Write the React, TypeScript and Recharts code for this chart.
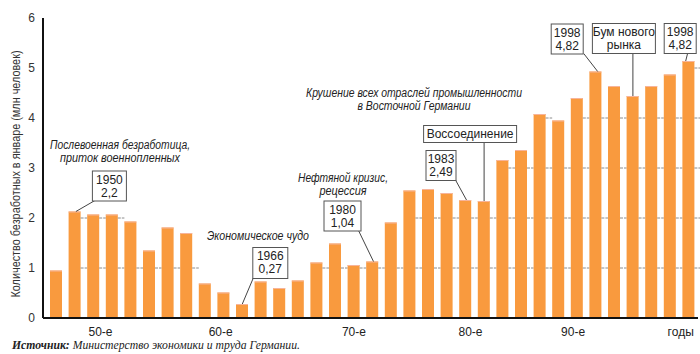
import React from 'react';
import { BarChart, Bar, XAxis, YAxis, ReferenceDot } from 'recharts';

// unemployed in January, mln people (one bar per reported year)
const values = [
  0.95, 2.13, 2.07, 2.07, 1.93, 1.35, 1.81, 1.70, 0.69, 0.51, 0.28, 0.73,
  0.60, 0.75, 1.11, 1.49, 1.06, 1.13, 1.91, 2.55, 2.58, 2.50, 2.36, 2.34,
  3.16, 3.36, 4.08, 3.95, 4.40, 4.93, 4.64, 4.44, 4.64, 4.87, 5.14,
];

const tickLabels = [
  '', '', '50-е', '', '', '', '', '', '', '60-е', '', '', '', '', '', '', '70-е', '',
  '', '', '', '', '80-е', '', '', '', '', '', '90-е', '', '', '', '', '', 'годы',
];

const yTicks = [0, 1, 2, 3, 4, 5, 6];

// boxed callouts: which bar they point at and what they say
const calloutBars = [1, 10, 17, 22, 23, 29, 31, 34];
const calloutTexts = [
  ['1950', '2,2'],
  ['1966', '0,27'],
  ['1980', '1,04'],
  ['1983', '2,49'],
  ['Воссоединение'],
  ['1998', '4,82'],
  ['Бум нового', 'рынка'],
  ['1998', '4,82'],
];

const data = values.map((v, i) => ({ key: String(i), value: v, label: tickLabels[i] }));

const SANS = "'Liberation Sans', Arial, sans-serif";
const BAR = '#F99A3E';

// box placement relative to the top of the bar it points at
const calloutLayout = [
  { dx: 17, dy: -41, w: 34, h: 30, lx: 20, ly: -11, ex: 1 },
  { dx: 10, dy: -57, w: 35, h: 31, lx: 11, ly: -26, ex: 0 },
  { dx: -49, dy: -61, w: 37, h: 30, lx: -14, ly: -31, ex: 1 },
  { dx: -40, dy: -50, w: 30, h: 30, lx: -10, ly: -20, ex: 1 },
  { dx: -61, dy: -76, w: 93, h: 17, lx: 0, ly: -59, ex: 0 },
  { dx: -45, dy: -48, w: 32, h: 30, lx: -12, ly: -18, ex: 2 },
  { dx: -41, dy: -73, w: 63, h: 30, lx: 0, ly: -43, ex: 0 },
  { dx: -25, dy: -38, w: 32, h: 30, lx: -1, ly: -8, ex: -3 },
];

const tickShift: Record<string, number> = { '50-е': 7, '60-е': -3, '80-е': 5, '90-е': -4, 'годы': -8 };

function BarShape(props: any) {
  const { x, y, width, height, payload } = props;
  const v = payload.value;
  const unit = height / v;
  const dashes = [];
  for (let k = 1; k <= 5; k++) {
    if (k < v) {
      const yy = y + height - k * unit;
      dashes.push(
        <line key={k} x1={x + width} x2={x + width + 6.6} y1={yy} y2={yy} stroke="#8c8c8c" strokeWidth={1} strokeDasharray="3 1" />
      );
    }
  }
  return (
    <g>
      <rect x={x} y={y} width={width} height={height} fill={BAR} />
      <line x1={x} x2={x + width} y1={y + 0.5} y2={y + 0.5} stroke="#F7B49A" strokeWidth={1} />
      {dashes}
    </g>
  );
}

function Callout(props: any) {
  const { cx, cy, lines, layout } = props;
  if (cx == null || cy == null) return null;
  const bx = cx + layout.dx;
  const by = cy + layout.dy;
  return (
    <g>
      <line x1={cx + layout.lx} y1={cy + layout.ly} x2={cx + layout.ex} y2={cy} stroke="#444" strokeWidth={1} />
      <rect x={bx + 0.5} y={by + 0.5} width={layout.w} height={layout.h} fill="#fff" stroke="#555" strokeWidth={1} />
      {lines.map((t: string, i: number) => (
        <text
          key={i}
          x={bx + layout.w / 2 + 0.5}
          y={by + 13 + i * 13}
          textAnchor="middle"
          fontSize={12}
          fontFamily={SANS}
          fill="#222"
        >
          {t}
        </text>
      ))}
    </g>
  );
}

function XTick(props: any) {
  const { x, y, index } = props;
  const label = tickLabels[index];
  if (!label) return null;
  return (
    <text x={x + (tickShift[label] || 0)} y={y + 10} textAnchor="middle" fontSize={12} fontFamily={SANS} fill="#222">
      {label}
    </text>
  );
}

function Note({ x, y, len, children }: any) {
  return (
    <text
      x={x}
      y={y}
      textAnchor="middle"
      fontSize={12}
      fontFamily={SANS}
      fontStyle="italic"
      fill="#222"
      textLength={len}
      lengthAdjust="spacingAndGlyphs"
    >
      {children}
    </text>
  );
}

export default function App() {
  return (
    <div style={{ position: 'absolute', left: 0, top: 0, width: 700, height: 354, background: '#fff' }}>
      <BarChart width={700} height={354} data={data} margin={{ top: 18, right: 2, bottom: 16, left: 0 }} barSize={12}>
        <XAxis
          dataKey="key"
          interval={0}
          tick={<XTick />}
          tickLine={false}
          axisLine={{ stroke: '#111', strokeWidth: 2 }}
          padding={{ left: 4, right: 0 }}
          height={20}
        />
        <YAxis
          domain={[0, 6]}
          ticks={yTicks}
          width={43}
          tickLine={false}
          tickSize={0}
          tickMargin={8}
          axisLine={{ stroke: '#111', strokeWidth: 2 }}
          tick={{ fontSize: 12, fontFamily: SANS, fill: '#333' }}
        />
        <Bar dataKey="value" isAnimationActive={false} shape={<BarShape />} />
        {calloutBars.map((b, i) => (
          <ReferenceDot
            key={i}
            x={String(b)}
            y={values[b]}
            r={1}
            ifOverflow="visible"
            shape={(p: any) => <Callout {...p} lines={calloutTexts[i]} layout={calloutLayout[i]} />}
          />
        ))}
      </BarChart>
      <svg width={700} height={354} style={{ position: 'absolute', left: 0, top: 0, pointerEvents: 'none' }}>
        <text
          transform="translate(20 174) rotate(-90)"
          textAnchor="middle"
          fontSize={12}
          fontFamily={SANS}
          fill="#333"
          textLength={247}
          lengthAdjust="spacingAndGlyphs"
        >
          Количество безработных в январе (млн человек)
        </text>
        <Note x={120} y={149} len={140}>Послевоенная безработица,</Note>
        <Note x={120} y={162} len={120}>приток военнопленных</Note>
        <Note x={258} y={240} len={102}>Экономическое чудо</Note>
        <Note x={343} y={182} len={90}>Нефтяной кризис,</Note>
        <Note x={343} y={195} len={47}>рецессия</Note>
        <Note x={414} y={97} len={216}>Крушение всех отраслей промышленности</Note>
        <Note x={414} y={110} len={113}>в Восточной Германии</Note>
        <text
          x={12}
          y={349}
          fontSize={12}
          fontFamily="'Liberation Serif', 'Times New Roman', serif"
          fontStyle="italic"
          fill="#222"
          textLength={288}
          lengthAdjust="spacingAndGlyphs"
        >
          <tspan fontWeight="bold">Источник:</tspan> Министерство экономики и труда Германии.
        </text>
      </svg>
    </div>
  );
}
